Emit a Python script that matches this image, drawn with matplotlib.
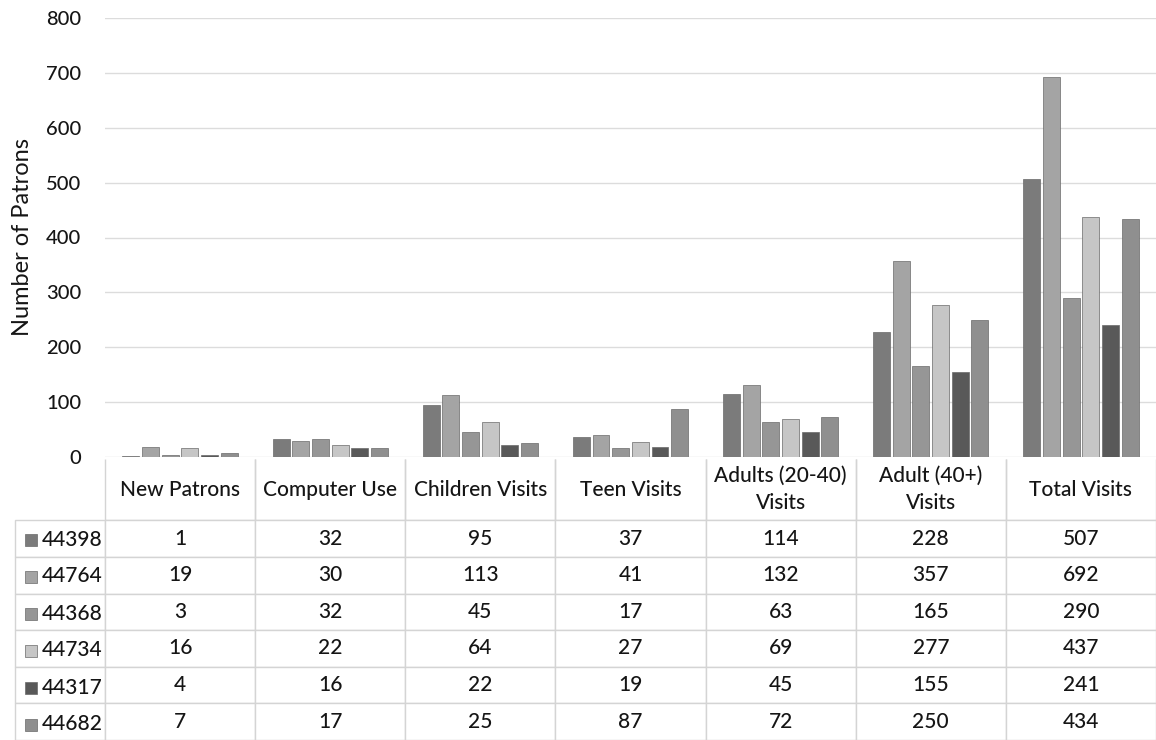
import matplotlib.pyplot as plt
import numpy as np

plt.rcParams['font.family'] = ['Lato', 'DejaVu Sans']
plt.rcParams['font.weight'] = 'medium'

# data
categories = ['New Patrons', 'Computer Use', 'Children Visits', 'Teen Visits',
              'Adults (20-40)\nVisits', 'Adult (40+)\nVisits', 'Total Visits']
series = ['44398', '44764', '44368', '44734', '44317', '44682']
values = [
    [1, 32, 95, 37, 114, 228, 507],
    [19, 30, 113, 41, 132, 357, 692],
    [3, 32, 45, 17, 63, 165, 290],
    [16, 22, 64, 27, 69, 277, 437],
    [4, 16, 22, 19, 45, 155, 241],
    [7, 17, 25, 87, 72, 250, 434],
]
colors = ['#7b7b7b', '#a4a4a4', '#969696', '#c6c6c6', '#595959', '#8f8f8f']
yticks = [0, 100, 200, 300, 400, 500, 600, 700, 800]

W, H = 1156, 740
fig = plt.figure(figsize=(W / 100, H / 100), dpi=100)
txt = '#151515'

# plot area in pixels
px_left, px_right, px_top, px_bottom = 105, 1156, 18, 457
pw = px_right - px_left
ph = px_bottom - px_top
ax = fig.add_axes([px_left / W, 1 - px_bottom / H, pw / W, ph / H])

n = len(series)
slot = 0.131
bw = 0.113
x = np.arange(len(categories)) + 0.5
for i, (s, vals) in enumerate(zip(series, values)):
    off = (i - (n - 1) / 2) * slot
    ax.bar(x + off, vals, bw, color=colors[i], edgecolor='#6a6a6a',
           linewidth=0.5, zorder=3)

ax.set_xlim(0, len(categories))
ax.set_ylim(0, 800)
ax.set_yticks(yticks)
ax.set_xticks([])
ax.grid(axis='y', color='#dcdcdc', linewidth=1, zorder=0)
for sp in ax.spines.values():
    sp.set_visible(False)
ax.tick_params(axis='y', length=0, labelsize=14.5, labelcolor=txt, pad=17)
ax.set_ylabel('Number of Patrons', fontsize=17, color=txt)
ax.yaxis.set_label_coords((33 - px_left) / pw, 0.5)

# table below the chart
tab_left, tab_top, tab_bottom = 15, 459, 740
label_w = px_left - tab_left
head_h, row_h = 62, 37

cell_text = [[''] + [str(v) for v in vals] for vals in values]
col_labels = [''] + categories
col_widths = [label_w] + [pw / len(categories)] * len(categories)

bbox = [(tab_left - px_left) / pw, (px_bottom - tab_bottom) / ph,
        (px_right - tab_left) / pw, (tab_bottom - tab_top) / ph]
tbl = ax.table(cellText=cell_text, colLabels=col_labels, colWidths=col_widths,
               cellLoc='center', bbox=bbox)
tbl.auto_set_font_size(False)
tbl.set_fontsize(15)

for (r, c), cell in tbl.get_celld().items():
    cell.set_edgecolor('#d4d4d4')
    cell.set_linewidth(1)
    cell.get_text().set_color(txt)
    if r == 0:
        cell.set_height(head_h)
        cell.visible_edges = '' if c == 0 else 'LRB'
        cell.get_text().set_linespacing(1.45)
    else:
        cell.set_height(row_h)

# legend squares and series names in the row label column
for i in range(n):
    yc = (px_bottom - (tab_top + head_h + row_h * (i + 0.5))) / ph
    ax.plot([(tab_left + 16 - px_left) / pw], [yc], marker='s', markersize=8.5,
            color=colors[i], markeredgecolor='#6a6a6a', markeredgewidth=0.5,
            transform=ax.transAxes, clip_on=False)
    ax.text((tab_left + 27 - px_left) / pw, yc, series[i], fontsize=15, color=txt,
            ha='left', va='center', transform=ax.transAxes)

fig.savefig('out.png', dpi=100)
